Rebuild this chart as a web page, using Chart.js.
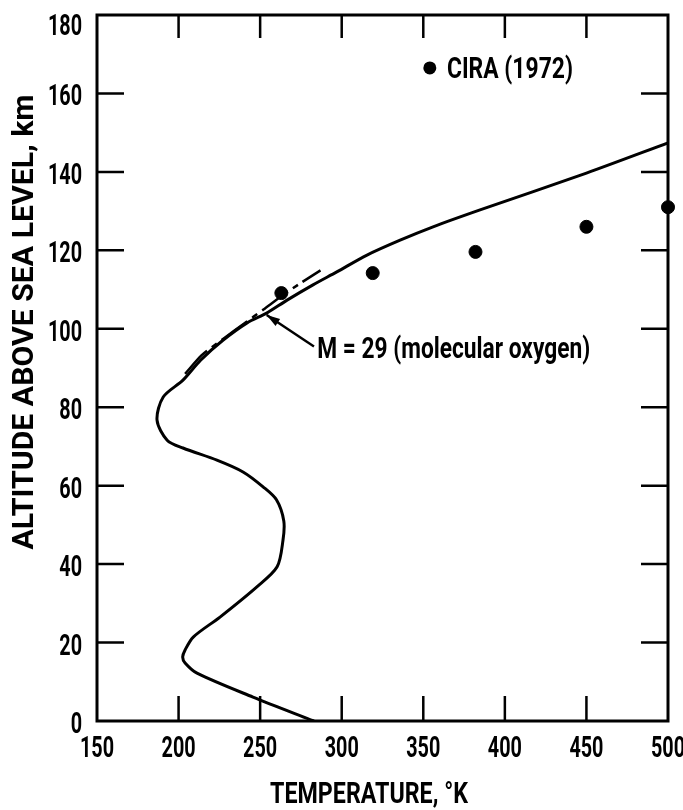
<!DOCTYPE html>
<html>
<head>
<meta charset="utf-8">
<script src="https://cdn.jsdelivr.net/npm/chart.js@4"></script>
<style>
  html, body { margin: 0; padding: 0; background: #fff; }
  #wrap { width: 683px; height: 810px; }
</style>
</head>
<body>
<div id="wrap"><canvas id="atmChart"></canvas></div>
<script>
// Temperature profile (K) vs altitude (km)
const profileTemp = [283, 245.6, 211.3, 204, 202.5, 204, 209, 225.4, 248, 260.4, 264, 264.5, 260, 251.8, 239.5, 223.5, 202.7, 193, 186.8, 190.6, 202.7, 213.5, 227, 242, 254, 266.5, 282.4, 297, 315.5, 335.8, 356, 384.8, 450, 500];
const profileAlt  = [0, 6.1, 12.2, 14.8, 16.3, 18.1, 21.4, 26.5, 34.2, 39.3, 46.1, 51, 56.4, 59.7, 63.5, 66.5, 69.6, 71.6, 76.7, 82.6, 86.9, 92, 97, 101.5, 104, 107.3, 111.2, 114.5, 118.8, 122.6, 126, 130.3, 139.7, 147.4];

// M = 29 (molecular oxygen) dash-dot segment
const oxyTemp = [204, 214, 228.5, 240, 252, 263, 275, 287];
const oxyAlt  = [88.5, 93.2, 97.8, 101.3, 104.9, 108.3, 111.7, 114.9];

// CIRA (1972) points
const ciraTemp = [263, 319, 382, 450, 500];
const ciraAlt  = [109.1, 114.2, 119.6, 126, 131];

const xTicks = [150, 200, 250, 300, 350, 400, 450, 500];
const yTicks = [0, 20, 40, 60, 80, 100, 120, 140, 160, 180];

const FONT = 'bold 30px Roboto, "DejaVu Sans", sans-serif';

function pts(xs, ys) {
    return xs.map(function (x, i) { return { x: x, y: ys[i] }; });
}

// draw text squeezed horizontally (narrow typeface look); width = target width or scale factor
function squeezed(ctx, s, x, y, align, width, isScale) {
    const w = ctx.measureText(s).width;
    const sx = isScale ? width : width / w;
    ctx.save();
    ctx.translate(x, y);
    ctx.scale(sx, 1);
    ctx.textAlign = align;
    ctx.fillText(s, 0, 0);
    ctx.restore();
}

// frame, inward tick marks, labels and annotations
const decorPlugin = {
    id: 'decor',
    afterDraw: function (chart) {
        const ctx = chart.ctx;
        const a = chart.chartArea;
        const xs = chart.scales.x;
        const ys = chart.scales.y;
        ctx.save();
        ctx.strokeStyle = '#000';
        ctx.fillStyle = '#000';
        ctx.lineWidth = 3;
        ctx.strokeRect(a.left, a.top, a.right - a.left, a.bottom - a.top);

        ctx.lineWidth = 2.5;
        ctx.beginPath();
        xTicks.slice(1, -1).forEach(function (v) {
            const px = xs.getPixelForValue(v);
            ctx.moveTo(px, a.bottom); ctx.lineTo(px, a.bottom - 25);
            ctx.moveTo(px, a.top); ctx.lineTo(px, a.top + 23);
        });
        yTicks.slice(1, -1).forEach(function (v) {
            const py = ys.getPixelForValue(v);
            ctx.moveTo(a.left, py); ctx.lineTo(a.left + 27, py);
            ctx.moveTo(a.right, py); ctx.lineTo(a.right - 27, py);
        });
        ctx.stroke();

        ctx.font = FONT;
        ctx.textBaseline = 'alphabetic';

        // tick labels
        xTicks.forEach(function (v) {
            squeezed(ctx, String(v), xs.getPixelForValue(v), a.bottom + 36, 'center', 0.66, true);
        });
        yTicks.forEach(function (v) {
            const py = Math.max(ys.getPixelForValue(v), a.top + 8);
            squeezed(ctx, String(v), a.left - 15, py + 12, 'right', 0.66, true);
        });

        // legend
        ctx.beginPath();
        ctx.arc(xs.getPixelForValue(354), ys.getPixelForValue(166.5), 6.5, 0, Math.PI * 2);
        ctx.fill();
        squeezed(ctx, 'CIRA (1972)', xs.getPixelForValue(364.5), 78, 'left', 126);

        // annotation with arrow
        const tipX = xs.getPixelForValue(254), tipY = ys.getPixelForValue(103.5);
        const tailX = xs.getPixelForValue(283), tailY = ys.getPixelForValue(95.5);
        ctx.lineWidth = 2.5;
        ctx.beginPath();
        ctx.moveTo(tailX, tailY); ctx.lineTo(tipX, tipY);
        ctx.stroke();
        const ang = Math.atan2(tipY - tailY, tipX - tailX);
        ctx.beginPath();
        ctx.moveTo(tipX, tipY);
        ctx.lineTo(tipX - 14 * Math.cos(ang - 0.3), tipY - 14 * Math.sin(ang - 0.3));
        ctx.lineTo(tipX - 14 * Math.cos(ang + 0.3), tipY - 14 * Math.sin(ang + 0.3));
        ctx.closePath();
        ctx.fill();
        squeezed(ctx, 'M = 29 (molecular oxygen)', xs.getPixelForValue(285), 358, 'left', 273);

        // axis titles
        squeezed(ctx, 'TEMPERATURE, \u00B0K', 369, 803, 'center', 198);
        ctx.translate(33, 322);
        ctx.rotate(-Math.PI / 2);
        squeezed(ctx, 'ALTITUDE ABOVE SEA LEVEL, km', 0, 0, 'center', 455);
        ctx.restore();
    }
};

new Chart(document.getElementById('atmChart').getContext('2d'), {
    type: 'scatter',
    data: {
        datasets: [{
            label: 'Profile',
            data: pts(profileTemp, profileAlt),
            showLine: true,
            borderColor: '#000',
            borderWidth: 3,
            pointRadius: 0,
            tension: 0.3
        }, {
            label: 'M = 29 (molecular oxygen)',
            data: pts(oxyTemp, oxyAlt),
            showLine: true,
            borderColor: '#000',
            borderWidth: 2.5,
            borderDash: [32, 6, 6, 6],
            pointRadius: 0,
            tension: 0.2
        }, {
            label: 'CIRA (1972)',
            data: pts(ciraTemp, ciraAlt),
            showLine: false,
            backgroundColor: '#000',
            borderColor: '#000',
            pointRadius: 6.5,
            clip: false
        }]
    },
    options: {
        responsive: true,
        maintainAspectRatio: false,
        animation: false,
        layout: { padding: { top: 15, right: 15, left: 0, bottom: 0 } },
        plugins: { legend: { display: false }, tooltip: { enabled: false } },
        scales: {
            x: {
                type: 'linear',
                min: 150, max: 500,
                afterFit: function (s) { s.height = 89; s.paddingLeft = 0; s.paddingRight = 0; },
                grid: { display: false },
                border: { display: false },
                ticks: { display: false }
            },
            y: {
                type: 'linear',
                min: 0, max: 180,
                afterFit: function (s) { s.width = 97; s.paddingTop = 0; s.paddingBottom = 0; },
                grid: { display: false },
                border: { display: false },
                ticks: { display: false }
            }
        }
    },
    plugins: [decorPlugin]
});
</script>
</body>
</html>
